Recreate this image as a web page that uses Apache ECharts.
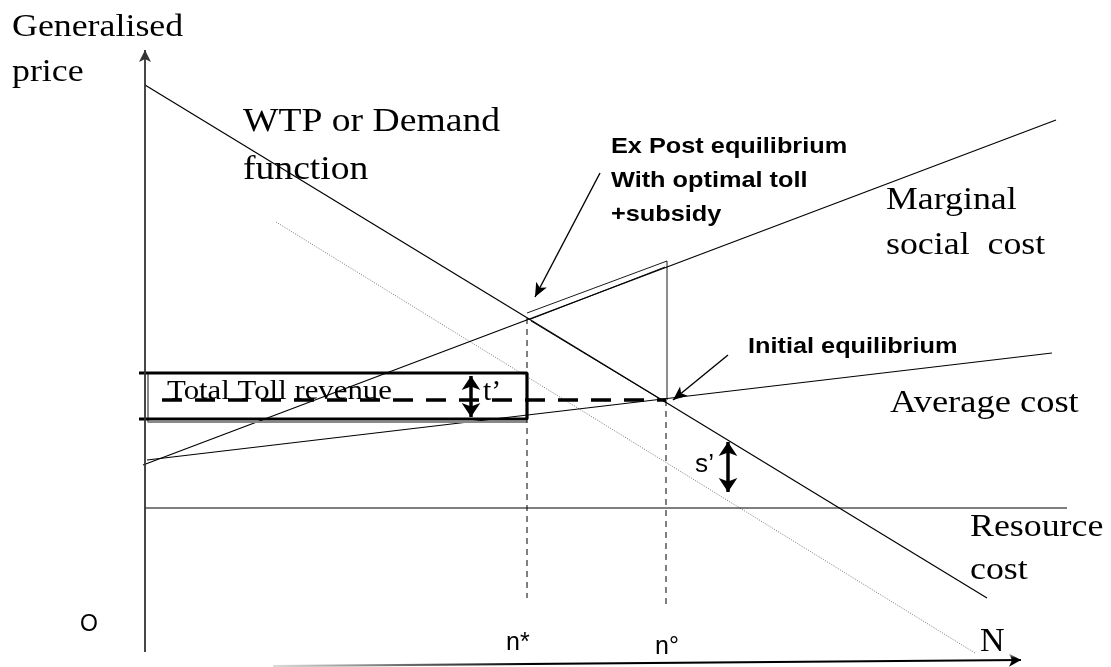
<!DOCTYPE html>
<html>
<head>
<meta charset="utf-8">
<script src="https://cdn.jsdelivr.net/npm/echarts@6/dist/echarts.min.js"></script>
<style>
  html, body { margin: 0; padding: 0; background: #fff; }
  #main { width: 1111px; height: 667px; }
</style>
</head>
<body>
<div id="main"></div>
<script>
var chart = echarts.init(document.getElementById('main'));

// curve end points (x = traffic, y = generalised price, screen-like units)
const demandCurve = [[145, 85], [987, 598]];
const shiftedDemand = [[276, 222], [975, 653]];
const marginalSocialCost = [[143, 465], [1056, 120]];
const averageCost = [[147, 460], [1052, 353]];
const resourceCost = [[145, 508], [1067, 508]];

// toll box and dashed price line
const tollBox = [[139, 373], [527, 373], [527, 419], [139, 419]];
const tollBoxInner = [[148, 373], [148, 422], [527, 422]];
const priceLine = [[162, 400], [666, 400]];
const nStarDrop = [[527, 318], [527, 598]];
const nZeroDrop = [[666, 400], [666, 607]];

// thin double-lined wedge between n* and n°
const wedgeA = [[527, 313], [667, 261], [667, 400]];
const wedgeB = [[531, 319], [665, 267]];
const wedgeC = [[531, 321], [665, 402]];

// arrows
const yAxisArrow = [[145, 652], [145, 50]];
const xAxisArrow = [[273, 666], [1021, 660]];
const expostPointer = [[600, 173], [535, 297]];
const initialPointer = [[728, 355], [673, 400]];
const tArrow = [[471, 376], [471, 417]];
const sArrow = [[728, 442], [728, 492]];

const labelTexts = {
  yTitle: ['Generalised', 'price'],
  demand: ['WTP or Demand', 'function'],
  expost: ['Ex Post equilibrium', 'With optimal toll', '+subsidy'],
  msc: ['Marginal', 'social  cost'],
  initial: ['Initial equilibrium'],
  avg: ['Average cost'],
  resource: ['Resource', 'cost'],
  toll: ['Total Toll revenue'],
  t: ['t\u2019'],
  s: ['s\u2019'],
  nStar: ['n*'],
  nZero: ['n\u00b0'],
  origin: ['O'],
  xTitle: ['N']
};

const SERIF = '"Liberation Serif", "DejaVu Serif", serif';
const SANS = '"Liberation Sans", Arial, sans-serif';

function seg(data, style) {
  return {
    type: 'line', data: data, symbol: 'none', silent: true, animation: false,
    lineStyle: Object.assign({ color: '#000', width: 1.2 }, style || {}),
    z: 3
  };
}

function arrow(pts, opt) {
  return {
    type: 'line', data: [], silent: true, animation: false,
    markLine: {
      silent: true, animation: false,
      symbol: opt.symbol, symbolSize: opt.size,
      label: { show: false },
      lineStyle: Object.assign({ color: '#000', type: 'solid', width: 1.2 }, opt.line || {}),
      data: [[{ coord: pts[0] }, { coord: pts[1] }]]
    }
  };
}

const options = {
  backgroundColor: '#fff',
  grid: { left: 0, right: 0, top: 0, bottom: 0 },
  xAxis: { type: 'value', min: 0, max: 1111, show: false },
  yAxis: { type: 'value', min: 0, max: 667, inverse: true, show: false },
  series: [
    seg(demandCurve, { width: 1.2 }),
    seg(shiftedDemand, { width: 1, type: [1, 1.5], color: '#777' }),
    seg(marginalSocialCost, { width: 1.2 }),
    seg(averageCost, { width: 1.2 }),
    seg(resourceCost, { width: 1.2 }),
    seg(tollBoxInner, { width: 2, color: '#888' }),
    seg(tollBox, { width: 3.2 }),
    seg(priceLine, { width: 3.5, type: [20, 13] }),
    seg(nStarDrop, { width: 1, type: [6, 5] }),
    seg(nZeroDrop, { width: 1, type: [6, 5] }),
    seg(wedgeA, { width: 0.9 }),
    seg(wedgeB, { width: 0.9 }),
    seg(wedgeC, { width: 0.9 }),
    arrow(yAxisArrow, { symbol: ['none', 'arrow'], size: [9, 12], line: { width: 1.8, color: '#333' } }),
    arrow(xAxisArrow, {
      symbol: ['none', 'arrow'], size: [10, 12],
      line: {
        width: 2.2,
        color: new echarts.graphic.LinearGradient(0, 0, 1, 0, [
          { offset: 0, color: '#ddd' },
          { offset: 0.35, color: '#000' },
          { offset: 1, color: '#000' }
        ])
      }
    }),
    arrow(expostPointer, { symbol: ['none', 'arrow'], size: [9, 14], line: { width: 1.4 } }),
    arrow(initialPointer, { symbol: ['none', 'arrow'], size: [9, 14], line: { width: 1.4 } }),
    arrow(tArrow, { symbol: ['arrow', 'arrow'], size: [14, 14], line: { width: 3.5 } }),
    arrow(sArrow, { symbol: ['arrow', 'arrow'], size: [14, 14], line: { width: 3.5 } })
  ]
};
chart.setOption(options);

// text annotations: [key, left, first baseline, line gap, font size, family, weight, scaleX]
const placements = [
  ['yTitle', 12, 37, 45, 32, SERIF, 'normal', 1.12],
  ['demand', 243, 132, 48, 33, SERIF, 'normal', 1.14],
  ['expost', 611, 153, 34, 22, SANS, 'bold', 1.15],
  ['msc', 886, 210, 45, 32, SERIF, 'normal', 1.12],
  ['initial', 748, 353, 0, 22, SANS, 'bold', 1.15],
  ['avg', 890, 413, 0, 32, SERIF, 'normal', 1.14],
  ['resource', 970, 537, 43, 32, SERIF, 'normal', 1.12],
  ['toll', 167, 399, 0, 28, SERIF, 'normal', 1.1],
  ['t', 483, 401, 0, 30, SERIF, 'normal', 1.0],
  ['s', 695, 472, 0, 25, SANS, 'normal', 1.05],
  ['nStar', 506, 650, 0, 25, SANS, 'normal', 1.0],
  ['nZero', 655, 654, 0, 25, SANS, 'normal', 1.0],
  ['origin', 80, 631, 0, 23, SANS, 'normal', 1.0],
  ['xTitle', 980, 652, 0, 34, SERIF, 'normal', 1.0]
];

const texts = [];
placements.forEach(function (p) {
  labelTexts[p[0]].forEach(function (line, i) {
    const pos = chart.convertToPixel({ gridIndex: 0 }, [p[1], p[2] + i * p[3]]);
    texts.push({
      type: 'text',
      x: pos[0],
      y: pos[1] + p[4] * 0.22,
      scaleX: p[7],
      z: 10,
      style: {
        text: line,
        fill: '#000',
        font: p[6] + ' ' + p[4] + 'px ' + p[5],
        align: 'left',
        verticalAlign: 'bottom'
      }
    });
  });
});
chart.setOption({ graphic: texts });
</script>
</body>
</html>
